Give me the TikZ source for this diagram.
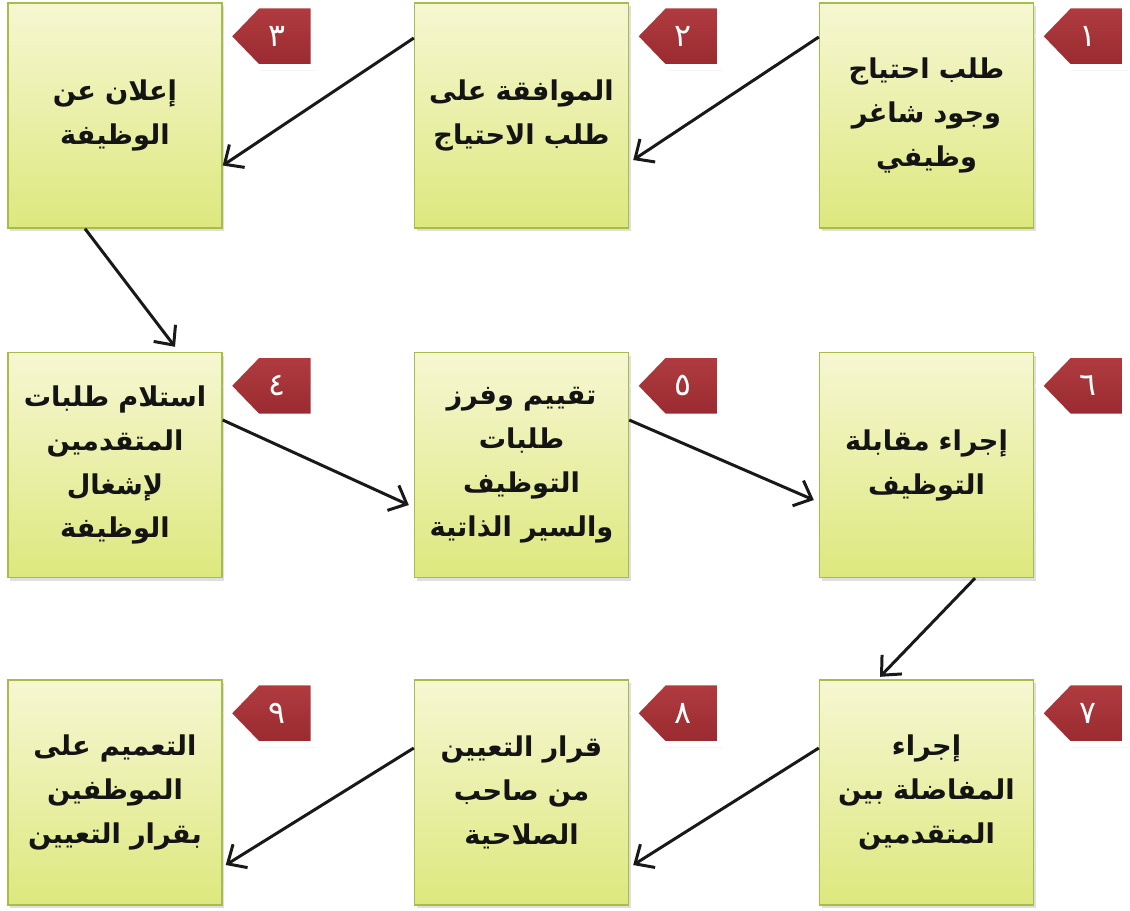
\documentclass[tikz,border=0pt]{standalone}
\usepackage{fontspec}
\newfontfamily\arabicfont[Script=Arabic]{DejaVu Sans}
\newfontfamily\numfont{DejaVu Sans}
\TeXXeTstate=1
\usetikzlibrary{arrows.meta,shadows}
\definecolor{boxtop}{HTML}{F6F7D2}
\definecolor{boxbot}{HTML}{DDE87E}
\definecolor{boxedge}{HTML}{A9BC4A}
\definecolor{tabtop}{HTML}{B03C40}
\definecolor{tabbot}{HTML}{992A2F}
\newcommand\rl[1]{\beginR#1\endR}
\begin{document}
\begin{tikzpicture}[
box/.style={draw=boxedge, line width=.8pt, top color=boxtop, bottom color=boxbot,
  minimum width=4.28cm, minimum height=4.5cm, text width=4cm, inner sep=0pt, align=center,
  font=\arabicfont\bfseries\fontsize{15.5}{25}\selectfont, text=black!92,
  drop shadow={opacity=.25, shadow xshift=.04cm, shadow yshift=-.06cm}},
tabshape/.style={draw=white, line width=3.5pt, line join=miter, top color=tabtop, bottom color=tabbot,
  drop shadow={opacity=.35, shadow xshift=.05cm, shadow yshift=-.06cm}},
tabnum/.style={text=white, font=\numfont\fontsize{18}{20}\selectfont},
arr/.style={-{Straight Barb[length=3mm,width=5.5mm]}, line width=1.7pt, black!90}]
\useasboundingbox (0,0) rectangle (22.6,-18.2);
\node (b1) [box] at (18.53,-2.31) {\rl{طلب احتياج}\\\rl{وجود شاغر}\\\rl{وظيفي}};
\node (b2) [box] at (10.43,-2.31) {\rl{الموافقة على}\\\rl{طلب الاحتياج}};
\node (b3) [box] at (2.3,-2.31) {\rl{إعلان عن}\\\rl{الوظيفة}};
\node (b4) [box] at (2.3,-9.3) {\rl{استلام طلبات}\\\rl{المتقدمين}\\\rl{لإشغال}\\\rl{الوظيفة}};
\node (b5) [box] at (10.43,-9.3) {\rl{تقييم وفرز}\\\rl{طلبات}\\\rl{التوظيف}\\\rl{والسير الذاتية}};
\node (b6) [box] at (18.53,-9.3) {\rl{إجراء مقابلة}\\\rl{التوظيف}};
\node (b7) [box] at (18.53,-15.85) {\rl{إجراء}\\\rl{المفاضلة بين}\\\rl{المتقدمين}};
\node (b8) [box] at (10.43,-15.85) {\rl{قرار التعيين}\\\rl{من صاحب}\\\rl{الصلاحية}};
\node (b9) [box] at (2.3,-15.85) {\rl{التعميم على}\\\rl{الموظفين}\\\rl{بقرار التعيين}};
\foreach \b/\n in {b1/١,b2/٢,b3/٣,b4/٤,b5/٥,b6/٦,b7/٧,b8/٨,b9/٩}{
\draw[tabshape] ([shift={(0.1,-0.68)}]\b.north east) -- ++(0.6,0.62) -- ++(1.12,0)
  -- ++(0,-1.24) -- ++(-1.12,0) -- cycle;
\node (\b n) [tabnum] at ([shift={(1.08,-0.68)}]\b.north east) {\n};
}
\draw[arr] ([yshift=1.57cm]b1.west) -- ([yshift=-0.89cm,xshift=0.08cm]b2.east);
\draw[arr] ([yshift=1.55cm]b2.west) -- ([yshift=-1cm]b3.east);
\draw[arr] ([xshift=-0.6cm]b3.south) -- ([xshift=1.2cm,yshift=0.1cm]b4.north);
\draw[arr] ([yshift=0.9cm]b4.east) -- ([yshift=-0.8cm,xshift=-0.1cm]b5.west);
\draw[arr] ([yshift=0.9cm]b5.east) -- ([yshift=-0.7cm,xshift=-0.1cm]b6.west);
\draw[arr] ([xshift=0.97cm]b6.south) -- ([xshift=-0.93cm,yshift=0.05cm]b7.north);
\draw[arr] ([yshift=0.89cm]b7.west) -- ([yshift=-1.45cm,xshift=0.08cm]b8.east);
\draw[arr] ([yshift=0.89cm]b8.west) -- ([yshift=-1.45cm,xshift=0.06cm]b9.east);
\end{tikzpicture}
\end{document}
